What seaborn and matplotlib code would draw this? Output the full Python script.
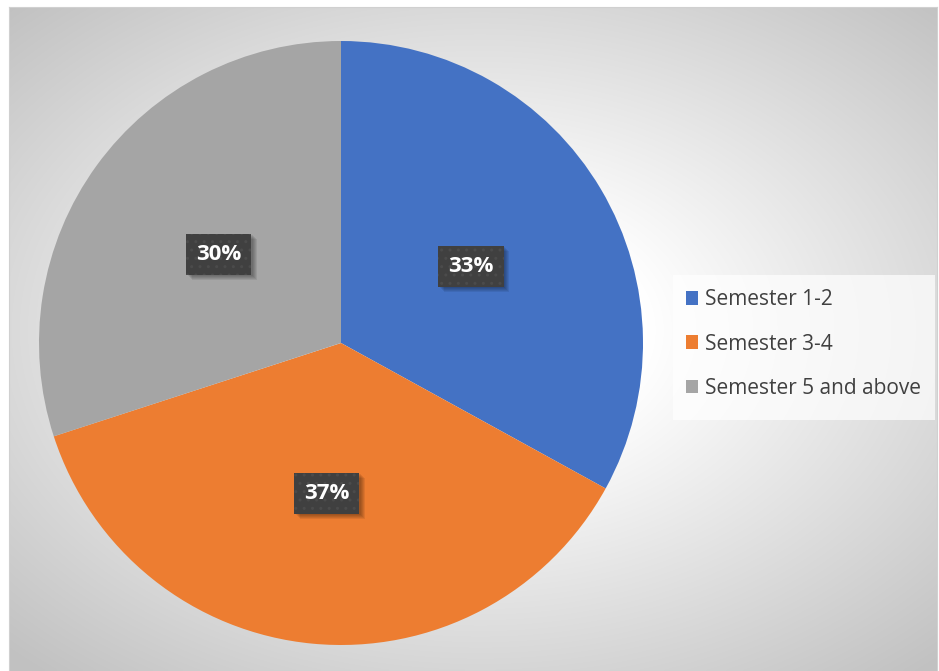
import numpy as np
import matplotlib
matplotlib.use("Agg")
import matplotlib.pyplot as plt
from matplotlib.patches import Patch, Rectangle
import seaborn as sns

# Student distribution by semester
categories = ["Semester 1-2", "Semester 3-4", "Semester 5 and above"]
shares = [33, 37, 30]
colors = ["#4472C4", "#ED7D31", "#A5A5A5"]

sns.set_theme(style="white")
plt.rcParams["font.family"] = ["Open Sans", "DejaVu Sans"]
palette = sns.color_palette(colors)

W, H = 939, 671
fig = plt.figure(figsize=(W / 100, H / 100), dpi=100)
fig.patch.set_facecolor("white")

# Chart area with a soft radial gray gradient
x0, y0, x1 = 9, 7, 937
bg = fig.add_axes([x0 / W, 0, (x1 - x0) / W, (H - y0) / H])
yy, xx = np.mgrid[y0:H, x0:x1]
t = np.sqrt(((xx - 480) / 560.0) ** 2 + ((yy - 330) / 380.0) ** 2)
shade = 255 - 62 * np.clip((t - 0.3) / 0.9, 0, 1)
img = np.dstack([shade, shade, shade]).astype(np.uint8)
bg.imshow(img, aspect="auto", interpolation="bilinear")
bg.set_xticks([])
bg.set_yticks([])
for s in bg.spines.values():
    s.set_color("#d0d0d0")
    s.set_linewidth(0.8)

# Pie axes: center (341, 343) px, radius 302 px
cx, cy, r = 341, 343, 302
ax = fig.add_axes([(cx - r) / W, (H - cy - r) / H, 2 * r / W, 2 * r / H])
ax.patch.set_alpha(0)
wedges, _, autotexts = ax.pie(
    shares,
    colors=palette,
    startangle=90,
    counterclock=False,
    radius=1,
    autopct=lambda p: f"{p:.0f}%",
    pctdistance=0.5,
    wedgeprops=dict(linewidth=0),
    textprops=dict(color="white", fontsize=16, fontweight="bold", zorder=5),
)
ax.set_xlim(-1, 1)
ax.set_ylim(-1, 1)
ax.set_aspect("auto")
ax.axis("off")

# Dark data-label boxes
for txt in autotexts:
    txt.set_bbox(dict(boxstyle="square,pad=0.45", facecolor="#404040",
                      edgecolor="#4b4b4b", linewidth=0, hatch=".."))

# Soft drop shadow under each label box
fig.canvas.draw()
renderer = fig.canvas.get_renderer()
for txt in autotexts:
    ext = txt.get_bbox_patch().get_window_extent(renderer)
    for d in (1.5, 2.5, 3.5, 4.5, 5.5):
        ax.add_patch(Rectangle(((ext.x0 + d) / W, (ext.y0 - d) / H),
                               ext.width / W, ext.height / H,
                               transform=fig.transFigure, facecolor="black",
                               alpha=0.075, linewidth=0, zorder=3))

# Legend panel
fig.patches.append(Rectangle((673 / W, 1 - 420 / H), (935 - 673) / W, 145 / H,
                             transform=fig.transFigure, facecolor="white",
                             alpha=0.7, edgecolor="none", zorder=2))
handles = [Patch(facecolor=c, edgecolor="none") for c in palette]
leg = fig.legend(
    handles, categories,
    loc="center left",
    bbox_to_anchor=(673 / W, 1 - 344 / H),
    frameon=False,
    fontsize=15,
    labelcolor="#404040",
    handlelength=0.62,
    handleheight=0.62,
    handletextpad=0.3,
    labelspacing=1.12,
    borderpad=0.6,
    borderaxespad=0,
)
leg.set_zorder(3)

fig.savefig("out.png", dpi=100)
